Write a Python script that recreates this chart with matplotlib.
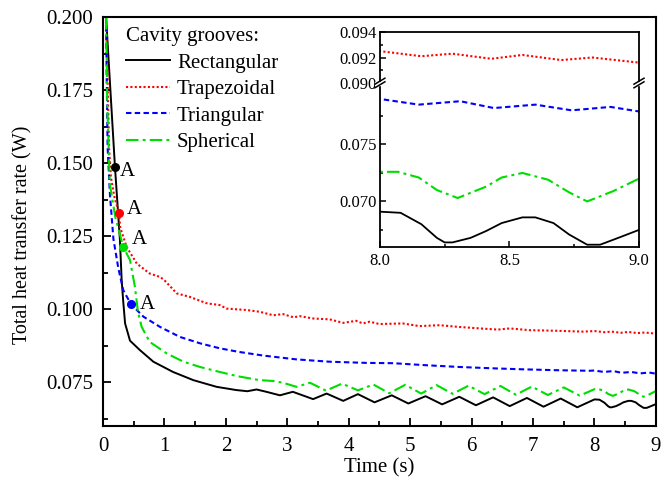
import matplotlib
matplotlib.use('Agg')
import matplotlib.pyplot as plt
from matplotlib.ticker import FixedLocator, MultipleLocator
from matplotlib.lines import Line2D
from matplotlib.patches import Rectangle

plt.rcParams['font.family'] = ['Liberation Serif', 'DejaVu Serif']

# time (s) and total heat transfer rate (W)
t_rect = [0.05, 0.195, 0.276, 0.304, 0.33, 0.36, 0.44, 0.60, 0.82, 1.14, 1.47, 1.85,
          2.17, 2.35, 2.5, 2.66, 2.88, 3.09, 3.42, 3.64, 3.91, 4.15, 4.42, 4.70, 4.97,
          5.25, 5.52, 5.80, 6.07, 6.35, 6.62, 6.90, 7.17, 7.45, 7.72, 8.0, 8.08, 8.16,
          8.22, 8.25, 8.28, 8.35, 8.41, 8.47, 8.55, 8.60, 8.67, 8.73, 8.80, 8.85, 8.92, 9.0]
q_rect = [0.2, 0.1487, 0.1236, 0.110, 0.1025, 0.0951, 0.0892, 0.0860, 0.0820, 0.0785,
          0.0757, 0.0734, 0.0723, 0.0719, 0.0725, 0.0717, 0.0705, 0.0717, 0.0692, 0.0711,
          0.0686, 0.0709, 0.0681, 0.0705, 0.0677, 0.0702, 0.0674, 0.0700, 0.0671, 0.0698,
          0.0668, 0.0696, 0.0666, 0.0694, 0.0664, 0.0691, 0.0690, 0.0680, 0.0668, 0.0664,
          0.0664, 0.0668, 0.0674, 0.0681, 0.0686, 0.0686, 0.0681, 0.0671, 0.0662, 0.0662,
          0.0668, 0.0675]

t_trap = [0.05, 0.075, 0.10, 0.13, 0.19, 0.26, 0.28, 0.385, 0.55, 0.76, 0.93, 1.0, 1.2,
          1.41, 1.69, 1.9, 2.01, 2.2, 2.34, 2.55, 2.77, 2.93, 3.10, 3.20, 3.42, 3.69, 3.91,
          4.12, 4.23, 4.34, 4.5, 4.88, 5.15, 5.48, 5.80, 6.13, 6.43, 6.62, 6.94, 7.38, 7.81,
          8.0, 8.16, 8.28, 8.43, 8.55, 8.70, 8.82, 9.0]
q_trap = [0.2, 0.178, 0.155, 0.145, 0.138, 0.133, 0.128, 0.1213, 0.1156, 0.1122, 0.111,
          0.1099, 0.1054, 0.1042, 0.1020, 0.1014, 0.1002, 0.0999, 0.0997, 0.0991, 0.0979,
          0.0983, 0.0972, 0.0976, 0.0968, 0.0965, 0.0953, 0.0960, 0.0951, 0.0957, 0.0949,
          0.0951, 0.0942, 0.0945, 0.0939, 0.0934, 0.0930, 0.0934, 0.0928, 0.0926, 0.0923,
          0.0925, 0.0921, 0.0923, 0.0919, 0.0922, 0.0918, 0.0920, 0.0916]

t_tri = [0.05, 0.06, 0.076, 0.114, 0.17, 0.25, 0.33, 0.455, 0.66, 0.93, 1.25, 1.58, 1.90,
         2.2, 2.61, 3.15, 3.69, 4.29, 4.72, 5.26, 5.80, 6.40, 6.83, 7.38, 7.92, 8.0, 8.15,
         8.31, 8.44, 8.60, 8.74, 8.89, 9.0]
q_tri = [0.2, 0.18, 0.155, 0.139, 0.124, 0.114, 0.1065, 0.1017, 0.0974, 0.0939, 0.0905,
         0.0883, 0.0866, 0.0854, 0.0841, 0.0828, 0.0820, 0.0816, 0.0815, 0.0808, 0.0802,
         0.0797, 0.0794, 0.0791, 0.0789, 0.0790, 0.0785, 0.0788, 0.0782, 0.0785, 0.0780,
         0.0783, 0.0779]

t_sph = [0.05, 0.07, 0.11, 0.2, 0.33, 0.44, 0.52, 0.57, 0.63, 0.76, 1.04, 1.31, 1.58, 1.90,
         2.2, 2.55, 2.77, 2.93, 3.15, 3.37, 3.63, 3.89, 4.15, 4.40, 4.66, 4.92, 5.18, 5.43,
         5.69, 5.95, 6.21, 6.47, 6.72, 6.98, 7.24, 7.50, 7.76, 8.0, 8.07, 8.15, 8.22, 8.30,
         8.41, 8.47, 8.55, 8.65, 8.73, 8.80, 8.90, 9.0]
q_sph = [0.2, 0.17, 0.143, 0.1316, 0.1213, 0.1168, 0.1076, 0.0990, 0.0939, 0.0888, 0.0848,
         0.0820, 0.0802, 0.0785, 0.0770, 0.0757, 0.0754, 0.0748, 0.0734, 0.0748, 0.0721,
         0.0745, 0.0722, 0.0742, 0.0712, 0.0741, 0.0711, 0.0740, 0.0710, 0.0738, 0.0709,
         0.0737, 0.0707, 0.0735, 0.0706, 0.0732, 0.0704, 0.0726, 0.0726, 0.0721, 0.0710,
         0.0703, 0.0713, 0.0721, 0.0725, 0.0719, 0.0708, 0.0700, 0.0709, 0.0720]

# points "A" on each curve (rectangular, trapezoidal, spherical, triangular)
a_t = [0.195, 0.26, 0.33, 0.455]
a_q = [0.1487, 0.133, 0.1213, 0.1017]
a_colors = ['black', '#ff0000', '#00dd00', '#0000ff']
a_offsets = [(3.6, -6.8), (5.8, -1.2), (6.3, 2.4), (6.5, -3.2)]

labels = ['Rectangular', 'Trapezoidal', 'Triangular', 'Spherical']
colors = ['black', '#ff0000', '#0000ff', '#00dd00']
styles = ['-', (0, (1, 1.1)), (0, (2.6, 1.6)), (0, (6, 2, 1.4, 2))]
series = [(t_rect, q_rect), (t_trap, q_trap), (t_tri, q_tri), (t_sph, q_sph)]

fig = plt.figure(figsize=(6.7, 4.82), dpi=100)
ax = fig.add_axes([0.1537, 0.1162, 0.8253, 0.8485])

for (tt, qq), lab, c, ls in zip(series, labels, colors, styles):
    ax.plot(tt, qq, color=c, ls=ls, lw=1.4 if c == 'black' else 1.5, label=lab)

for x, y, c, off in zip(a_t, a_q, a_colors, a_offsets):
    ax.plot(x, y, 'o', color=c, ms=5.5, zorder=5)
    ax.annotate('A', (x, y), xytext=off, textcoords='offset points',
                fontsize=15, ha='left', va='baseline')

ax.set_xlim(0, 9)
ax.set_ylim(0.06, 0.2)
ax.xaxis.set_major_locator(FixedLocator(range(10)))
ax.xaxis.set_minor_locator(MultipleLocator(0.5))
ax.yaxis.set_major_locator(FixedLocator([0.075, 0.1, 0.125, 0.15, 0.175, 0.2]))
ax.yaxis.set_minor_locator(FixedLocator([0.0625, 0.0875, 0.1125, 0.1375, 0.1625, 0.1875]))
ax.yaxis.set_major_formatter(plt.FormatStrFormatter('%.3f'))
ax.tick_params(which='both', direction='in', top=False, right=False, width=1.3,
               labelsize=15)
ax.tick_params(which='major', length=6, pad=7)
ax.tick_params(axis='x', pad=8)
ax.tick_params(which='minor', length=3.5)
for s in ax.spines.values():
    s.set_linewidth(1.5)

ax.set_xlabel('Time (s)', fontsize=15)
ax.set_ylabel('Total heat transfer rate (W)', fontsize=14.5)
ax.xaxis.set_label_coords(0.5, -0.08)
ax.yaxis.set_label_coords(-0.128, 0.467)

leg = ax.legend(title='Cavity grooves:', loc='upper left', bbox_to_anchor=(0.035, 0.985),
                frameon=False, fontsize=15, title_fontsize=15, handlelength=2.1,
                handletextpad=0.33, labelspacing=0.33, borderpad=0.2, borderaxespad=0)
leg._legend_box.align = 'left'

# inset with broken y axis
x0, x1 = 0.567, 0.9537
y_bot, y_brk, y_top = 0.4876, 0.8278, 0.9336
axu = fig.add_axes([x0, y_brk, x1 - x0, y_top - y_brk])
axl = fig.add_axes([x0, y_bot, x1 - x0, y_brk - y_bot])

for a in (axu, axl):
    for (tt, qq), c, ls in zip(series, colors, styles):
        a.plot(tt, qq, color=c, ls=ls, lw=1.3 if c == 'black' else 1.5)
    a.set_xlim(8, 9)
    a.tick_params(which='both', direction='in', top=False, right=False, width=1.1,
                  labelsize=12, pad=2.5)
    a.tick_params(which='major', length=4)
    a.tick_params(which='minor', length=2.5)
    for s in a.spines.values():
        s.set_linewidth(1.3)

axu.set_ylim(0.090, 0.094)
axu.yaxis.set_major_locator(FixedLocator([0.090, 0.092, 0.094]))
axu.yaxis.set_minor_locator(FixedLocator([0.091, 0.093]))
axu.yaxis.set_major_formatter(plt.FormatStrFormatter('%.3f'))
axu.spines['bottom'].set_visible(False)
axu.tick_params(which='both', bottom=False, labelbottom=False)

axl.set_ylim(0.066, 0.0804)
axl.yaxis.set_major_locator(FixedLocator([0.070, 0.075]))
axl.yaxis.set_minor_locator(FixedLocator([0.0675, 0.0725, 0.0775]))
axl.yaxis.set_major_formatter(plt.FormatStrFormatter('%.3f'))
axl.xaxis.set_major_locator(FixedLocator([8.0, 8.5, 9.0]))
axl.xaxis.set_minor_locator(FixedLocator([8.25, 8.75]))
axl.xaxis.set_major_formatter(plt.FormatStrFormatter('%.1f'))
axl.tick_params(axis='x', pad=4)
axl.spines['top'].set_visible(False)

# break marks on both inset spines
W, H = 670.0, 482.0
for xb in (x0, x1):
    fig.patches.append(Rectangle((xb - 5 / W, y_brk - 1.5 / H), 10 / W, 3 / H,
                                 transform=fig.transFigure, color='white', zorder=10))
    for dy in (-1.8, 1.8):
        fig.lines.append(Line2D([xb - 5 / W, xb + 5 / W],
                                [y_brk + (dy - 3) / H, y_brk + (dy + 3) / H],
                                transform=fig.transFigure, color='black', lw=1.1,
                                zorder=11))

fig.savefig('out.png', dpi=100)
